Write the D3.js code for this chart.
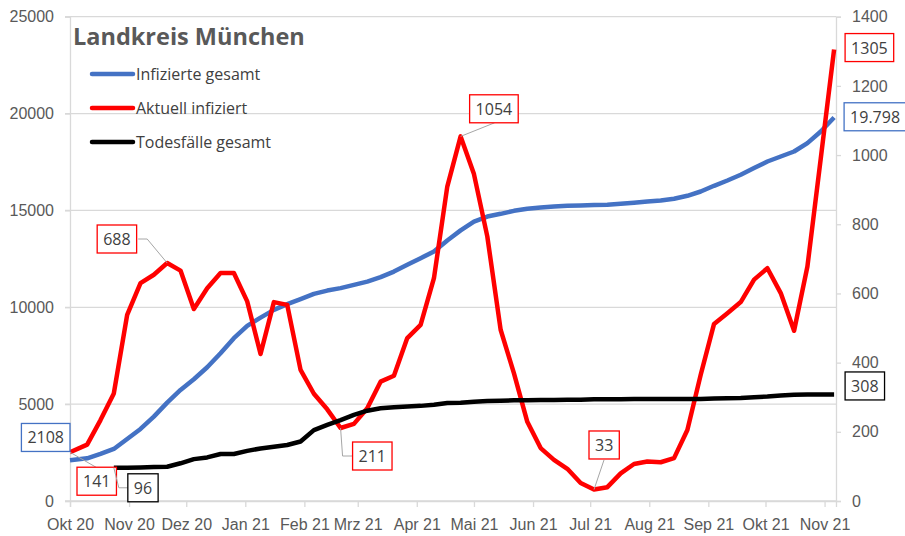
<!DOCTYPE html>
<html>
<head>
<meta charset="utf-8">
<script src="https://cdn.jsdelivr.net/npm/d3@7"></script>
<style>
  body { margin: 0; background: #fff; }
  svg { display: block; font-family: "Open Sans", sans-serif; }
  .axis text { fill: #595959; font-size: 16px; }
  .axis path, .axis line { stroke: #d9d9d9; }
</style>
</head>
<body>
<div id="chart"></div>
<script>
// weekly values, Landkreis München
var dates = ["2020-10-01","2020-10-10","2020-10-17","2020-10-24","2020-10-31","2020-11-07","2020-11-14","2020-11-21",
  "2020-11-28","2020-12-05","2020-12-12","2020-12-19","2020-12-26","2021-01-02","2021-01-09","2021-01-16",
  "2021-01-23","2021-01-30","2021-02-06","2021-02-13","2021-02-20","2021-02-27","2021-03-06","2021-03-13",
  "2021-03-20","2021-03-27","2021-04-03","2021-04-10","2021-04-17","2021-04-24","2021-05-01","2021-05-08",
  "2021-05-15","2021-05-22","2021-05-29","2021-06-05","2021-06-12","2021-06-19","2021-06-26","2021-07-03",
  "2021-07-10","2021-07-17","2021-07-24","2021-07-31","2021-08-07","2021-08-14","2021-08-21","2021-08-28",
  "2021-09-04","2021-09-11","2021-09-18","2021-09-25","2021-10-02","2021-10-09","2021-10-16","2021-10-23",
  "2021-10-30","2021-11-06"];

var infizierteGesamt = [2108,2205,2428,2686,3202,3719,4354,5077,5733,6286,6906,7629,8404,9039,9468,9866,
  10160,10418,10692,10862,10987,11157,11327,11554,11844,12190,12536,12877,13450,13970,14427,14685,
  14824,14979,15083,15150,15201,15237,15253,15274,15289,15341,15393,15460,15511,15599,15754,15976,
  16271,16545,16839,17185,17526,17784,18042,18476,19075,19798];

var aktuellInfiziert = [141,163,234,311,538,630,654,688,666,555,615,659,659,577,425,575,
  567,379,310,265,211,223,268,345,362,471,509,644,909,1054,945,765,
  495,369,229,153,119,93,52,33,40,80,107,114,112,124,205,365,
  512,543,575,640,673,601,492,678,990,1305];

var todesfaelleGesamt = [null,null,null,96,96,97,98,99,109,121,126,136,136,145,152,157,
  162,172,205,220,234,249,261,268,271,273,275,278,283,284,287,289,
  290,291,291,292,292,293,293,294,294,294,295,295,295,295,295,295,
  296,297,298,300,302,305,307,308,308,308];

var monthLabels = ["Okt 20","Nov 20","Dez 20","Jan 21","Feb 21","Mrz 21","Apr 21","Mai 21",
  "Jun 21","Jul 21","Aug 21","Sep 21","Okt 21","Nov 21"];
var leftTicks = [0,5000,10000,15000,20000,25000];
var rightTicks = [0,200,400,600,800,1000,1200,1400];

var width = 905, height = 536;
var parse = d3.timeParse("%Y-%m-%d");
var days = dates.map(parse);

var x = d3.scaleTime().domain([new Date(2020,9,1), new Date(2021,10,7)]).range([70, 836]);
var yL = d3.scaleLinear().domain([0,25000]).range([501, 16.7]);
var yR = d3.scaleLinear().domain([0,1400]).range([501, 16.7]);

var svg = d3.select("#chart").append("svg")
	.attr("width", width)
	.attr("height", height);

svg.append("rect").attr("width", width).attr("height", height).attr("fill", "#fff");

// horizontal gridlines
svg.append("g").selectAll("line")
	.data(leftTicks)
	.enter()
	.append("line")
	.attr("x1", 65).attr("x2", 836)
	.attr("y1", function(d) { return yL(d); })
	.attr("y2", function(d) { return yL(d); })
	.attr("stroke", "#d9d9d9")
	.attr("stroke-width", 1.3);

svg.append("g")
	.attr("class", "axis")
	.attr("transform", "translate(70,0)")
	.call(d3.axisLeft(yL).tickValues(leftTicks).tickSize(5).tickPadding(11).tickFormat(d3.format("d")));

svg.append("g")
	.attr("class", "axis")
	.attr("transform", "translate(836,0)")
	.call(d3.axisRight(yR).tickValues(rightTicks).tickSize(5).tickPadding(11).tickFormat(d3.format("d")));

var months = d3.range(monthLabels.length).map(function(i) { return new Date(2020, 9 + i, 1); });
svg.append("g")
	.attr("class", "axis")
	.attr("transform", "translate(0,501)")
	.call(d3.axisBottom(x).tickValues(months).tickSize(6).tickPadding(12)
		.tickFormat(function(d, i) { return monthLabels[i]; }));

svg.selectAll(".axis path").attr("stroke-width", 1.3);
svg.selectAll(".axis .tick line").attr("stroke-width", 1.3);

// series
var series = [
	{ name: "Infizierte gesamt", values: infizierteGesamt, y: yL, color: "#4472c4" },
	{ name: "Aktuell infiziert", values: aktuellInfiziert, y: yR, color: "#ff0000" },
	{ name: "Todesfälle gesamt", values: todesfaelleGesamt, y: yR, color: "#000000" }
];

series.forEach(function(s) {
	var line = d3.line()
		.defined(function(d) { return d != null; })
		.x(function(d, i) { return x(days[i]); })
		.y(function(d) { return s.y(d); });
	svg.append("path")
		.datum(s.values)
		.attr("fill", "none")
		.attr("stroke", s.color)
		.attr("stroke-width", 4.5)
		.attr("stroke-linejoin", "round")
		.attr("d", line);
});

// title + legend
svg.append("text")
	.attr("x", 73).attr("y", 45)
	.attr("fill", "#595959")
	.style("font-size", "23.5px")
	.style("font-weight", "bold")
	.text("Landkreis München");

var legend = svg.append("g").selectAll("g")
	.data(series)
	.enter()
	.append("g")
	.attr("transform", function(d, i) { return "translate(92," + (74 + i * 34) + ")"; });
legend.append("line")
	.attr("x1", 0).attr("x2", 41)
	.attr("stroke", function(d) { return d.color; })
	.attr("stroke-width", 4.5)
	.attr("stroke-linecap", "round");
legend.append("text")
	.attr("x", 44).attr("y", 6)
	.attr("fill", "#404040")
	.style("font-size", "16px")
	.text(function(d) { return d.name; });

// data labels with callouts
var de = d3.formatLocale({ decimal: ",", thousands: ".", grouping: [3], currency: ["", " €"] });
var labels = [
	{ s: 0, i: 0, dx: 0, dy: -36.7, right: true, lead: null },
	{ s: 1, i: 0, dx: 7, dy: 15, lead: [[0,0],[26,15]] },
	{ s: 2, i: 3, dx: 14, dy: 6, lead: [[0,0],[5,20],[14,20]] },
	{ s: 1, i: 7, dx: -70, dy: -38, lead: [[0,0],[-20,-24],[-29,-24]] },
	{ s: 1, i: 29, dx: 9, dy: -41.6, lead: [[0,0],[34,-13.6]] },
	{ s: 1, i: 20, dx: 12, dy: 14, lead: [[0,0],[2,28],[12,28]] },
	{ s: 1, i: 39, dx: -5, dy: -58.6, lead: [[0,0],[10,-29.6]] },
	{ s: 1, i: 57, dx: 11, dy: -16, lead: null },
	{ s: 0, i: 57, dx: 10, dy: -14.7, lead: null, fmt: de.format(",d") },
	{ s: 2, i: 57, dx: 11, dy: -22.5, lead: null }
];

labels.forEach(function(l) {
	var s = series[l.s];
	var v = s.values[l.i];
	var px = x(days[l.i]), py = s.y(v);
	var g = svg.append("g");
	if (l.lead) {
		g.append("path")
			.attr("d", d3.line()(l.lead.map(function(p) { return [px + p[0], py + p[1]]; })))
			.attr("fill", "none")
			.attr("stroke", "#a6a6a6")
			.attr("stroke-width", 1);
	}
	var box = g.append("rect");
	var t = g.append("text")
		.attr("fill", "#404040")
		.style("font-size", "16px")
		.attr("text-anchor", "middle")
		.text(l.fmt ? l.fmt(v) : String(v));
	var w = t.node().getComputedTextLength() + 12;
	var left = l.right ? px + l.dx - w : px + l.dx;
	var top = py + l.dy;
	box.attr("x", left).attr("y", top)
		.attr("width", w).attr("height", 28)
		.attr("fill", "#fff")
		.attr("stroke", s.color)
		.attr("stroke-width", 1.3);
	t.attr("x", left + w / 2).attr("y", top + 20);
});
</script>
</body>
</html>
